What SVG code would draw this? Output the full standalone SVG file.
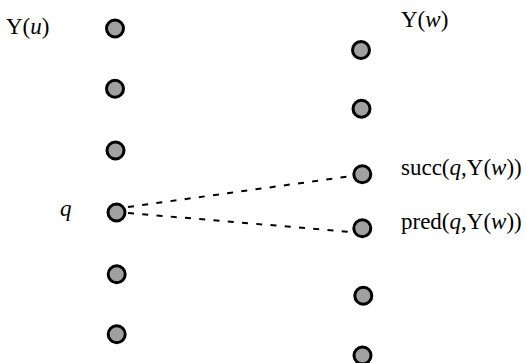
<svg xmlns="http://www.w3.org/2000/svg" width="526" height="363" viewBox="0 0 526 363">
<style>
.dot{fill:#a0a0a0;stroke:#000;stroke-width:3}
.lbl{font-family:"Liberation Serif","Times New Roman",serif;font-size:23px;fill:#000}
.it{font-style:italic}
.conn{stroke:#000;stroke-width:2;stroke-dasharray:6 8.3;fill:none}
</style>
<rect width="526" height="363" fill="#fff"/>
<g id="connectors">
<line class="conn" x1="128" y1="207" x2="352" y2="176"/>
<line class="conn" x1="128" y1="213" x2="352" y2="232"/>
</g>
<g id="left-column">
<circle id="u1" class="dot" cx="115" cy="28.5" r="8.5"/>
<circle id="u2" class="dot" cx="115" cy="88.7" r="8.5"/>
<circle id="u3" class="dot" cx="115.5" cy="150.5" r="8.5"/>
<circle id="q" class="dot" cx="116.5" cy="212.5" r="8.5"/>
<circle id="u5" class="dot" cx="116.7" cy="274.2" r="8.5"/>
<circle id="u6" class="dot" cx="116.7" cy="334.2" r="8.5"/>
</g>
<g id="right-column">
<circle id="w1" class="dot" cx="361" cy="50" r="8.5"/>
<circle id="w2" class="dot" cx="361.5" cy="108.7" r="8.5"/>
<circle id="succ" class="dot" cx="362.3" cy="174.2" r="8.5"/>
<circle id="pred" class="dot" cx="362.3" cy="228.3" r="8.5"/>
<circle id="w5" class="dot" cx="363.3" cy="295.7" r="8.5"/>
<circle id="w6" class="dot" cx="362.5" cy="355.5" r="8.5"/>
</g>
<g id="labels">
<text class="lbl" x="6" y="34">Y(<tspan class="it">u</tspan>)</text>
<text class="lbl" x="401" y="27">Y(<tspan class="it">w</tspan>)</text>
<text class="lbl it" x="60" y="216">q</text>
<text class="lbl" x="401" y="175">succ(<tspan class="it">q</tspan>,Y(<tspan class="it">w</tspan>))</text>
<text class="lbl" x="401" y="229">pred(<tspan class="it">q</tspan>,Y(<tspan class="it">w</tspan>))</text>
</g>
</svg>
